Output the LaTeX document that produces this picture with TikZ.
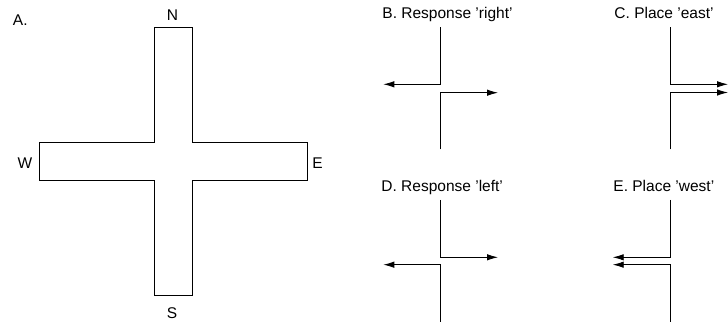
\documentclass[tikz,border=0pt]{standalone}
\usepackage{fontspec}
\setmainfont{Liberation Sans}
\usetikzlibrary{arrows.meta}
\begin{document}
\begin{tikzpicture}[x=1pt,y=-1pt, line width=0.9pt,
  lbl/.style={font=\fontsize{15.5}{18}\selectfont, inner sep=0pt},
  arr/.style={-{Latex[length=11pt,width=6.5pt]}}]
\useasboundingbox (0,0) rectangle (728,323);
% A: cross
\draw (154,27.3) -- (192.3,27.3) -- (192.3,142.3) -- (307.3,142.3) -- (307.3,180.3)
  -- (192.3,180.3) -- (192.3,295.3) -- (154,295.3) -- (154,180.3) -- (39.3,180.3)
  -- (39.3,142.3) -- (154,142.3) -- cycle;
\node[lbl, anchor=base west] (la) at (12.5,26) {A.};
\node[lbl, anchor=base] (ln) at (172.5,21) {N};
\node[lbl, anchor=base] (ls) at (172,318) {S};
\node[lbl, anchor=base] (lw) at (25,169) {W};
\node[lbl, anchor=base west] (le) at (312,169) {E};
% B
\node[lbl, anchor=base west] (tb) at (382,19) {B. Response 'right'};
\coordinate (b1) at (440.7,27.3);
\coordinate (b2) at (440.7,84.3);
\coordinate (b3) at (383.3,84.3);
\coordinate (b4) at (440.7,149.3);
\coordinate (b5) at (440.7,92.7);
\coordinate (b6) at (498,92.7);
\draw[arr] (b1) -- (b2) -- (b3);
\draw[arr] (b4) -- (b5) -- (b6);
% C
\node[lbl, anchor=base west] (tc) at (614,19) {C. Place 'east'};
\coordinate (c1) at (670,27.3);
\coordinate (c2) at (670,84.3);
\coordinate (c3) at (728,84.3);
\coordinate (c4) at (670,149.3);
\coordinate (c5) at (670,92.5);
\coordinate (c6) at (728,92.5);
\draw[arr] (c1) -- (c2) -- (c3);
\draw[arr] (c4) -- (c5) -- (c6);
% D
\node[lbl, anchor=base west] (td) at (381,192) {D. Response 'left'};
\coordinate (d1) at (440.7,200);
\coordinate (d2) at (440.7,257.3);
\coordinate (d3) at (498,257.3);
\coordinate (d4) at (440.7,321.7);
\coordinate (d5) at (440.7,264.7);
\coordinate (d6) at (383.3,264.7);
\draw[arr] (d1) -- (d2) -- (d3);
\draw[arr] (d4) -- (d5) -- (d6);
% E
\node[lbl, anchor=base west] (te) at (613,192) {E. Place 'west'};
\coordinate (e1) at (670,200);
\coordinate (e2) at (670,257.3);
\coordinate (e3) at (612.7,257.3);
\coordinate (e4) at (670,321.7);
\coordinate (e5) at (670,264.7);
\coordinate (e6) at (612.7,264.7);
\draw[arr] (e1) -- (e2) -- (e3);
\draw[arr] (e4) -- (e5) -- (e6);
\end{tikzpicture}
\end{document}
